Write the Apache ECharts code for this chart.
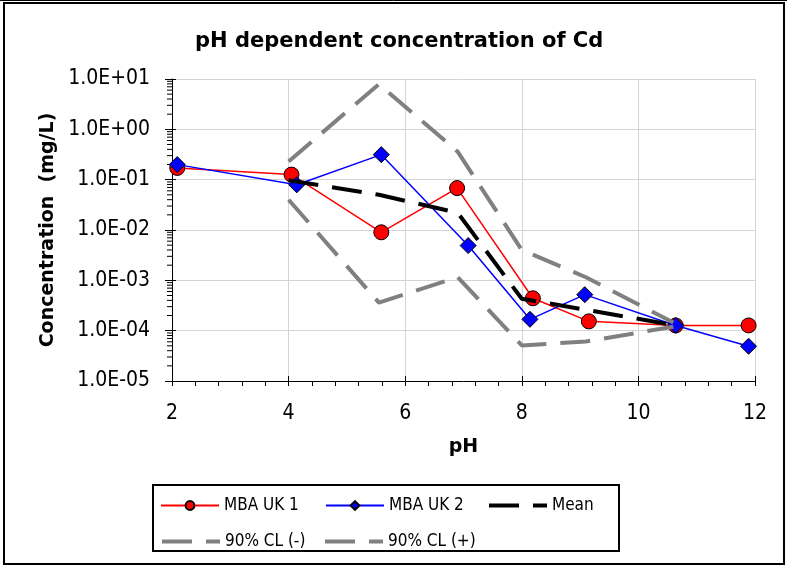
<!DOCTYPE html>
<html>
<head>
<meta charset="utf-8">
<script src="https://cdn.jsdelivr.net/npm/echarts@6/dist/echarts.min.js"></script>
<style>
html,body{margin:0;padding:0;background:#fff;}
#chart{width:787px;height:567px;}
</style>
</head>
<body>
<div id="chart"></div>
<script>
// ---- data ----
const pH1 = [2.09, 4.05, 5.59, 6.89, 8.19, 9.15, 10.64, 11.89];
const cd1 = [0.171, 0.126, 0.0090, 0.068, 4.4e-4, 1.53e-4, 1.27e-4, 1.27e-4];
const pH2 = [2.09, 4.14, 5.59, 7.08, 8.14, 9.08, 10.64, 11.89];
const cd2 = [0.199, 0.079, 0.314, 0.0049, 1.68e-4, 5.2e-4, 1.27e-4, 4.9e-5];
const pHStat = [4.0, 5.55, 6.9, 8.0, 9.1, 10.6];
const cdMean = [0.097, 0.05, 0.022, 4.3e-4, 2.6e-4, 1.3e-4];
const cdLower = [0.040, 3.6e-4, 1.16e-3, 5.1e-5, 6.1e-5, 1.2e-4];
const cdUpper = [0.23, 7.9, 0.36, 4.0e-3, 1.15e-3, 1.45e-4];
const seriesNames = ['MBA UK 1', 'MBA UK 2', 'Mean', '90% CL (-)', '90% CL (+)'];
const xTicks = [2, 4, 6, 8, 10, 12];
const yTickLabels = ['1.0E-05', '1.0E-04', '1.0E-03', '1.0E-02', '1.0E-01', '1.0E+00', '1.0E+01'];
const yMinorMultipliers = [2, 3, 4, 5, 6, 7, 8, 9];
const yDecades = [-5, -4, -3, -2, -1, 0];

const pairs = (xs, ys) => xs.map((x, i) => [x, ys[i]]);
const minorData = [];
yDecades.forEach(k => yMinorMultipliers.forEach(m => minorData.push([xTicks[0], m * Math.pow(10, k)])));

const FONT = "'DejaVu Sans Condensed', 'DejaVu Sans', sans-serif";
const DASH = [30, 14];
const chart = echarts.init(document.getElementById('chart'), null, {renderer: 'canvas'});

const legendCommon = {
  orient: 'horizontal', padding: 0, itemWidth: 58, itemHeight: 11, selectedMode: false,
  textStyle: {fontSize: 17, fontFamily: FONT, color: '#000'}
};
const noSymbol = {color: 'transparent', borderWidth: 0, opacity: 0};
const dashedLegend = (color) => ({
  itemStyle: noSymbol,
  lineStyle: {color: color, width: 4, type: DASH, opacity: 1}
});

const option = {
  backgroundColor: '#fff',
  animation: false,
  title: {
    text: 'pH dependent concentration of Cd', left: 190, top: 26,
    textStyle: {fontSize: 21, fontWeight: 'bold', fontFamily: "'DejaVu Sans', sans-serif", color: '#000'}
  },
  grid: {left: 172, right: 32, top: 79, bottom: 186},
  legend: [
    Object.assign({data: [seriesNames[0]], left: 160, top: 497}, legendCommon),
    Object.assign({data: [seriesNames[1]], left: 325, top: 497}, legendCommon),
    Object.assign({data: [seriesNames[2]], left: 487, top: 497}, legendCommon, dashedLegend('#000')),
    Object.assign({data: [seriesNames[3]], left: 160, top: 533}, legendCommon, dashedLegend('#808080')),
    Object.assign({data: [seriesNames[4]], left: 323, top: 533}, legendCommon, dashedLegend('#808080'))
  ],
  xAxis: [{
    type: 'value', min: xTicks[0], max: xTicks[xTicks.length - 1], interval: 2,
    name: 'pH', nameLocation: 'middle', nameGap: 57,
    nameTextStyle: {fontSize: 19, fontWeight: 'bold', fontFamily: "'DejaVu Sans', sans-serif", color: '#000'},
    axisLine: {lineStyle: {color: '#000', width: 1}},
    axisTick: {show: true, length: 5, lineStyle: {color: '#000'}},
    minorTick: {show: true, splitNumber: 5, length: 5, lineStyle: {color: '#000'}},
    axisLabel: {fontSize: 21, fontFamily: FONT, color: '#000', margin: 22},
    splitLine: {show: true, lineStyle: {color: '#d4d4d4', width: 1}}
  }, {
    type: 'value', min: xTicks[0], max: xTicks[xTicks.length - 1], interval: 2, position: 'bottom',
    axisLine: {show: false}, axisLabel: {show: false}, splitLine: {show: false},
    axisTick: {show: true, inside: true, length: 5, lineStyle: {color: '#000'}}
  }],
  yAxis: [{
    type: 'log', logBase: 10, min: 1e-5, max: 10, splitNumber: 6,
    name: 'Concentration  (mg/L)', nameLocation: 'middle', nameGap: 108,
    nameTextStyle: {fontSize: 19, fontWeight: 'bold', fontFamily: "'DejaVu Sans', sans-serif", color: '#000'},
    axisLine: {show: true, lineStyle: {color: '#000', width: 1}},
    axisTick: {show: true, length: 7, lineStyle: {color: '#000'}},
    axisLabel: {
      fontSize: 21, fontFamily: FONT, color: '#000', margin: 22,
      formatter: v => yTickLabels[Math.round(Math.log10(v)) + 5]
    },
    splitLine: {show: true, lineStyle: {color: '#d4d4d4', width: 1}}
  }, {
    type: 'log', logBase: 10, min: 1e-5, max: 10, splitNumber: 6, position: 'left',
    axisLine: {show: false}, axisLabel: {show: false}, splitLine: {show: false},
    axisTick: {show: true, inside: true, length: 4, lineStyle: {color: '#000'}}
  }],
  series: [
    {
      name: seriesNames[0], type: 'line', data: pairs(pH1, cd1), z: 3,
      symbol: 'circle', symbolSize: 15,
      lineStyle: {color: '#ff0000', width: 1.5},
      itemStyle: {color: '#ff0000', borderColor: '#000', borderWidth: 1}
    },
    {
      name: seriesNames[1], type: 'line', data: pairs(pH2, cd2), z: 4,
      symbol: 'diamond', symbolSize: 16,
      lineStyle: {color: '#0000ff', width: 1.5},
      itemStyle: {color: '#0000ff', borderColor: '#000', borderWidth: 1}
    },
    {
      name: seriesNames[2], type: 'line', data: pairs(pHStat, cdMean), z: 5,
      symbol: 'none',
      lineStyle: {color: '#000', width: 4, type: DASH},
      itemStyle: {color: '#000'}
    },
    {
      name: seriesNames[3], type: 'line', data: pairs(pHStat, cdLower), z: 6,
      symbol: 'none',
      lineStyle: {color: '#808080', width: 4, type: DASH},
      itemStyle: {color: '#808080'}
    },
    {
      name: seriesNames[4], type: 'line', data: pairs(pHStat, cdUpper), z: 6,
      symbol: 'none',
      lineStyle: {color: '#808080', width: 4, type: DASH},
      itemStyle: {color: '#808080'}
    },
    {
      name: 'yMinorTicks', type: 'custom', data: minorData, silent: true, clip: false, z: 2,
      renderItem: (params, api) => {
        const p = api.coord([api.value(0), api.value(1)]);
        return {type: 'line', shape: {x1: p[0] - 5, y1: p[1], x2: p[0], y2: p[1]},
          style: {stroke: '#000', lineWidth: 1}};
      }
    }
  ],
  graphic: [
    {type: 'rect', shape: {x: 153, y: 485, width: 466, height: 66}, style: {fill: null, stroke: '#000', lineWidth: 2}},
    {type: 'rect', shape: {x: 4, y: 3, width: 780, height: 561}, style: {fill: null, stroke: '#000', lineWidth: 2}},
    {type: 'line', shape: {x1: 0, y1: 0.5, x2: 787, y2: 0.5}, style: {stroke: '#000', lineWidth: 1}}
  ]
};
chart.setOption(option);
</script>
</body>
</html>
